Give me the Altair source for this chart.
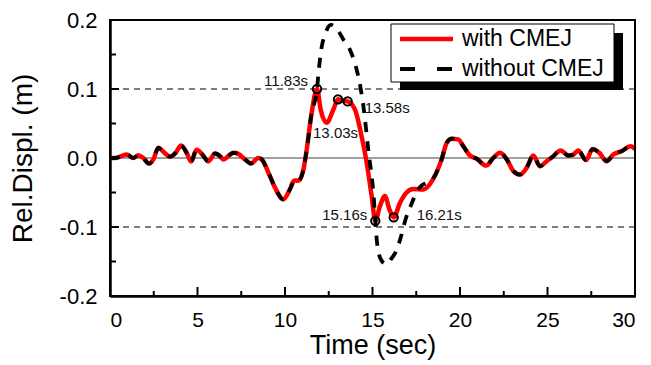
import altair as alt
import pandas as pd

# ---- data ----
pre_t = [0.0, 0.3, 0.95, 1.33, 1.62, 1.9, 2.23, 2.48, 2.76, 3.05, 3.43, 3.75, 4.06, 4.38,
         4.63, 4.95, 5.28, 5.62, 6.0, 6.29, 6.47, 7.05, 7.33, 7.71, 8.06, 8.47, 8.67, 9.05,
         9.43, 9.9, 10.29, 10.53, 10.76, 11.05, 11.24, 11.52, 11.83]
pre_v = [0.0, 0.0, 0.005, 0.0, 0.004, 0.0, -0.008, -0.002, 0.015, 0.009, 0.002, 0.0075, 0.018,
         0.0075, -0.005, 0.012, 0.005, -0.005, 0.0065, 0.0026, -0.002, 0.0075, 0.006, -0.002,
         -0.008, 0.0, -0.002, -0.021, -0.043, -0.060, -0.045, -0.0325, -0.033, -0.017, 0.012,
         0.065, 0.100]

with_mid_t = [12.04, 12.38, 12.76, 13.03, 13.3, 13.58, 14.0, 14.38, 14.67, 14.95, 15.16,
              15.43, 15.71, 15.96, 16.21, 16.57, 16.95, 17.33, 17.9, 18.48]
with_mid_v = [0.070, 0.051, 0.070, 0.085, 0.083, 0.082, 0.070, 0.031, -0.007, -0.055, -0.091,
              -0.0695, -0.055, -0.074, -0.086, -0.065, -0.050, -0.045, -0.0455, -0.030]

without_mid_t = [11.92, 12.07, 12.3, 12.62, 13.0, 13.35, 13.71, 14.0, 14.19, 14.48, 14.76,
                 15.05, 15.27, 15.5, 15.8, 16.1, 16.35, 16.57, 16.9, 17.24, 17.52, 17.8,
                 18.1, 18.48]
without_mid_v = [0.125, 0.157, 0.180, 0.193, 0.186, 0.171, 0.157, 0.137, 0.118, 0.075, 0.012,
                 -0.050, -0.125, -0.148, -0.154, -0.145, -0.135, -0.119, -0.088, -0.066,
                 -0.049, -0.040, -0.036, -0.029]

post_t = [18.95, 19.24, 19.52, 19.9, 20.19, 20.57, 20.95, 21.49, 21.9, 22.29, 22.67, 23.05,
          23.43, 23.81, 24.19, 24.57, 24.95, 25.33, 25.75, 26.19, 26.48, 26.76, 27.2, 27.58,
          27.96, 28.38, 28.76, 29.24, 29.75, 30.0]
post_v = [-0.002, 0.022, 0.028, 0.027, 0.017, 0.0036, -0.001, -0.011, 0.0, 0.0075, -0.002,
          -0.019, -0.024, -0.014, 0.0036, -0.012, -0.0046, 0.0026, 0.011, 0.0036, 0.005, 0.011,
          -0.003, 0.013, 0.0075, -0.0046, 0.005, 0.010, 0.017, 0.013]

peak_t = [11.83, 13.03, 13.58, 15.16, 16.21]
peak_v = [0.100, 0.085, 0.082, -0.091, -0.086]
peak_label = ["11.83s", "13.03s", "13.58s", "15.16s", "16.21s"]

x_major = [0, 5, 10, 15, 20, 25, 30]
x_minor = [2.5, 7.5, 12.5, 17.5, 22.5, 27.5]
y_major = [-0.2, -0.1, 0.0, 0.1, 0.2]
y_minor = [-0.15, -0.05, 0.05, 0.15]
ref_levels = [0.1, -0.1]
legend_labels = ["with CMEJ", "without CMEJ"]
x_range = [0, 30]
y_range = [-0.2, 0.2]

FONT = "Liberation Sans"
W, H = 525, 276

df_with = pd.DataFrame({"t": pre_t + with_mid_t + post_t, "v": pre_v + with_mid_v + post_v})
df_without = pd.DataFrame({"t": pre_t + without_mid_t + post_t,
                           "v": pre_v + without_mid_v + post_v})
df_peaks = pd.DataFrame({"t": peak_t, "v": peak_v, "label": peak_label})
df_frame = pd.DataFrame({"t": [x_range[0]], "t_end": [x_range[1]],
                         "v": [y_range[0]], "v_end": [y_range[1]]})

xs = alt.Scale(domain=x_range, nice=False, zero=False)
ys = alt.Scale(domain=y_range, nice=False, zero=False)

X = alt.X("t:Q", scale=xs, axis=alt.Axis(
    values=x_major, ticks=False, tickSize=0, domain=True, domainColor="black",
    domainWidth=2.5, grid=False,
    labelFontSize=21, labelFont=FONT, labelColor="black", labelPadding=13,
    title="Time (sec)", titleFont=FONT, titleFontSize=27, titleFontWeight="normal",
    titleColor="black", titlePadding=2))
Y = alt.Y("v:Q", scale=ys, axis=alt.Axis(
    values=y_major, ticks=False, tickSize=0, domain=True, domainColor="black",
    domainWidth=2.5, grid=False,
    labelExpr="(datum.value < -0.0001 ? '-' : '') + format(abs(datum.value), '.1f')",
    labelFontSize=22, labelFont=FONT, labelColor="black", labelPadding=13,
    title="Rel.Displ. (m)", titleFont=FONT, titleFontSize=28, titleFontWeight="normal",
    titleColor="black", titlePadding=22))

one = pd.DataFrame({"a": [0]})

zero = alt.Chart(pd.DataFrame({"v": [0.0]})).mark_rule(color="#808080", strokeWidth=1.5).encode(y=Y)
refs = alt.Chart(pd.DataFrame({"v": ref_levels})).mark_rule(
    color="black", strokeWidth=1.2, strokeDash=[6, 5]).encode(y=Y)

frame = alt.Chart(df_frame).mark_rect(filled=False, stroke="black", strokeWidth=2,
                                      strokeOpacity=1).encode(
    x=X, x2="t_end:Q", y=Y, y2="v_end:Q")

xt_major = alt.Chart(pd.DataFrame({"t": x_major})).mark_rule(color="black", strokeWidth=2).encode(
    x=X, y=alt.value(H), y2=alt.value(H - 9))
xt_minor = alt.Chart(pd.DataFrame({"t": x_minor})).mark_rule(color="black", strokeWidth=2).encode(
    x=X, y=alt.value(H), y2=alt.value(H - 5))
yt_major = alt.Chart(pd.DataFrame({"v": y_major})).mark_rule(color="black", strokeWidth=2).encode(
    y=Y, x=alt.value(0), x2=alt.value(9))
yt_minor = alt.Chart(pd.DataFrame({"v": y_minor})).mark_rule(color="black", strokeWidth=2).encode(
    y=Y, x=alt.value(0), x2=alt.value(6))

red = alt.Chart(df_with).mark_line(color="#ff0000", strokeWidth=4.5, interpolate="monotone").encode(
    x=X, y=Y, order="t:Q")
black = alt.Chart(df_without).mark_line(color="black", strokeWidth=3.8, strokeDash=[10, 9],
                                        interpolate="monotone").encode(x=X, y=Y, order="t:Q")

circles = alt.Chart(df_peaks).mark_point(shape="circle", filled=False, fill="transparent",
                                         stroke="black", strokeWidth=2, size=70,
                                         opacity=1).encode(x=X, y=Y)

offsets = {
    "11.83s": ("right", -9, -8),
    "13.03s": ("left", -25, 34),
    "13.58s": ("left", 17, 7),
    "15.16s": ("right", -8, -6),
    "16.21s": ("left", 23, -2),
}
label_layers = []
for lab in peak_label:
    al, dx, dy = offsets[lab]
    label_layers.append(
        alt.Chart(df_peaks).transform_filter(alt.datum.label == lab).mark_text(
            align=al, baseline="middle", dx=dx, dy=dy, font=FONT, fontSize=15, color="#111"
        ).encode(x=X, y=Y, text="label:N"))

shadow = alt.Chart(one).mark_rect(color="black").encode(
    x=alt.value(290), x2=alt.value(513), y=alt.value(13), y2=alt.value(70))
box = alt.Chart(one).mark_rect(fill="white", stroke="black", strokeWidth=1).encode(
    x=alt.value(281), x2=alt.value(504), y=alt.value(4), y2=alt.value(62))
leg_red = alt.Chart(one).mark_rule(color="#ff0000", strokeWidth=4.5).encode(
    x=alt.value(290), x2=alt.value(343), y=alt.value(19))
leg_black = alt.Chart(one).mark_rule(color="black", strokeWidth=4, strokeDash=[15, 22]).encode(
    x=alt.value(290), x2=alt.value(343), y=alt.value(49))
leg_t1 = alt.Chart(one).mark_text(align="left", baseline="middle", font=FONT, fontSize=23,
                                  color="black").encode(
    x=alt.value(352), y=alt.value(19), text=alt.value(legend_labels[0]))
leg_t2 = alt.Chart(one).mark_text(align="left", baseline="middle", font=FONT, fontSize=23,
                                  color="black").encode(
    x=alt.value(352), y=alt.value(49), text=alt.value(legend_labels[1]))

chart = alt.layer(
    zero, refs, xt_major, xt_minor, yt_major, yt_minor, red, black, circles,
    *label_layers, shadow, box, leg_red, leg_black, leg_t1, leg_t2, frame
).properties(
    width=W, height=H,
    autosize=alt.AutoSizeParams(type="none"),
    padding={"left": 110, "top": 20, "right": 16, "bottom": 69},
    background="white",
).configure_view(strokeWidth=0)

chart.save("out.html", embed_options={"renderer": "svg", "actions": False})
